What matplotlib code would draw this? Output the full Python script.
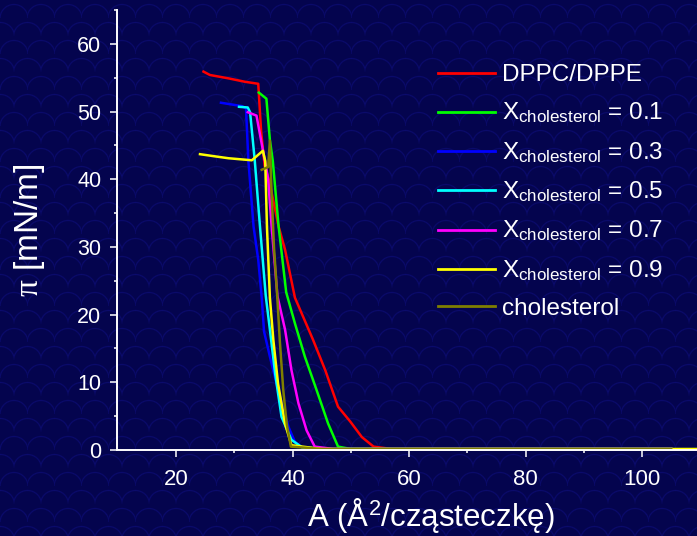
import numpy as np
import matplotlib
matplotlib.use('Agg')
from matplotlib import pyplot as plt

red_A = [24.7, 25.8, 29.0, 31.8, 34.1, 34.6, 35.2, 36.0, 37.6, 38.7, 40.4, 43.5, 45.6, 47.8, 49.9, 51.9, 53.9, 57.0, 105.0]
red_pi = [55.9, 55.4, 54.9, 54.4, 54.1, 47.0, 42.0, 39.7, 33.0, 29.6, 22.5, 16.3, 11.8, 6.4, 4.2, 1.9, 0.5, 0.15, 0.15]

green_A = [34.2, 35.5, 36.1, 36.6, 37.6, 38.9, 40.4, 42.1, 44.1, 46.1, 47.8, 50.0, 105.0]
green_pi = [52.8, 51.9, 45.8, 42.7, 33.0, 23.3, 18.7, 13.8, 8.9, 3.9, 0.5, 0.15, 0.15]

blue_A = [27.7, 31.3, 32.0, 32.4, 33.3, 34.1, 34.7, 35.1, 36.1, 37.5, 39.3, 40.4, 41.6, 45.0, 105.0]
blue_pi = [51.3, 50.8, 50.5, 42.8, 33.0, 28.1, 22.5, 17.5, 13.8, 8.9, 3.4, 1.2, 0.4, 0.15, 0.15]

cyan_A = [30.8, 32.3, 32.7, 33.5, 34.4, 35.4, 36.1, 37.0, 38.1, 39.8, 41.6, 45.0, 105.0]
cyan_pi = [50.7, 50.6, 49.9, 42.8, 33.0, 22.7, 17.8, 11.3, 4.9, 1.5, 0.4, 0.15, 0.15]

mag_A = [32.3, 33.8, 35.5, 35.8, 36.4, 37.4, 38.7, 39.8, 41.0, 42.4, 43.8, 47.0, 105.0]
mag_pi = [49.9, 49.4, 41.5, 40.0, 33.0, 22.7, 17.8, 11.8, 6.9, 2.9, 0.5, 0.15, 0.15]

yel_A = [24.1, 26.5, 29.0, 33.0, 34.9, 35.3, 35.6, 36.1, 36.7, 37.5, 38.7, 39.8, 45.0, 110.0]
yel_pi = [43.7, 43.4, 43.1, 42.8, 44.2, 42.7, 32.9, 22.5, 16.2, 9.8, 3.9, 0.7, 0.15, 0.15]

chol_A = [34.7, 35.8, 36.1, 36.3, 36.8, 37.3, 37.8, 38.4, 39.0, 39.7, 45.0, 105.0]
chol_pi = [41.4, 41.8, 45.7, 40.0, 30.0, 23.6, 16.2, 8.8, 3.8, 0.5, 0.15, 0.15]

labels = ['DPPC/DPPE',
          r'X$_{\mathrm{cholesterol}}$ = 0.1',
          r'X$_{\mathrm{cholesterol}}$ = 0.3',
          r'X$_{\mathrm{cholesterol}}$ = 0.5',
          r'X$_{\mathrm{cholesterol}}$ = 0.7',
          r'X$_{\mathrm{cholesterol}}$ = 0.9',
          'cholesterol']
colors = ['#ff0000', '#00ff00', '#0000ff', '#00ffff', '#ff00ff', '#ffff00', '#7f7f00']

# ---------------- style ----------------
plt.rcParams['font.family'] = ['Liberation Sans', 'DejaVu Sans']
plt.rcParams['mathtext.fontset'] = 'custom'
plt.rcParams['mathtext.rm'] = 'Liberation Sans'
plt.rcParams['mathtext.it'] = 'Liberation Serif'

W, H = 697, 536
bg = '#05054f'
fig = plt.figure(figsize=(W / 100, H / 100), dpi=100, facecolor=bg)

# slide background: dark navy with a faint scale pattern
yy, xx = np.mgrid[0:H, 0:W].astype(float)
cw, ch, rad = 27.0, 18.0, 14.0
row = np.floor(yy / ch)
cx = np.mod(xx + (row % 2) * cw / 2, cw) - cw / 2
cy = np.mod(yy, ch) - ch
d = np.sqrt(cx ** 2 + cy ** 2)
edge = np.clip(1.0 - np.abs(d - rad) / 1.2, 0, 1)
base = np.array([4, 4, 78]) / 255.0
line = np.array([11, 11, 108]) / 255.0
img = base[None, None, :] * (1 - edge[..., None]) + line[None, None, :] * edge[..., None]
fig.figimage(img, xo=0, yo=0, origin='upper', zorder=-10)

ax = fig.add_axes([116.7 / W, 86 / H, (W - 116.7) / W, 440 / H])
ax.set_facecolor('none')
ax.set_zorder(5)

series = [(red_A, red_pi), (green_A, green_pi), (blue_A, blue_pi), (cyan_A, cyan_pi),
          (mag_A, mag_pi), (yel_A, yel_pi), (chol_A, chol_pi)]
for (xs, ys), c, lab in zip(series, colors, labels):
    ax.plot(xs, ys, color=c, linewidth=1.8, label=lab, clip_on=False)

ax.set_xlim(9.8, 109.43)
ax.set_ylim(0, 65)
ax.set_xticks([20, 40, 60, 80, 100])
ax.set_xticks([30, 50, 70, 90], minor=True)
ax.set_yticks(np.arange(0, 61, 10))
ax.set_yticks(np.arange(5, 66, 10), minor=True)

for s in ['top', 'right']:
    ax.spines[s].set_visible(False)
for s in ['left', 'bottom']:
    ax.spines[s].set_color('white')
    ax.spines[s].set_linewidth(1.4)

ax.tick_params(which='both', direction='out', colors='white', width=1.1)
ax.tick_params(which='major', length=5)
ax.tick_params(which='minor', length=2.5)
ax.tick_params(axis='y', which='major', pad=6, labelsize=15.5)
ax.tick_params(axis='x', which='major', pad=9, labelsize=16)

ax.set_xlabel(r'A (Å$^{\mathrm{2}}$/cząsteczkę)', fontsize=22.5, color='white')
ax.xaxis.set_label_coords(0.541, -0.105)
ax.set_ylabel(r'$\pi$ [mN/m]', fontsize=24, color='white')
ax.yaxis.set_label_coords(-0.12, 0.5)

leg = ax.legend(loc='upper left', bbox_to_anchor=(438 / W, 1 - 64 / H),
                bbox_transform=fig.transFigure, frameon=False, fontsize=17.5,
                labelcolor='white', handlelength=2.35, handletextpad=0.3,
                labelspacing=0.62, borderpad=0, borderaxespad=0)
for ln in leg.get_lines():
    ln.set_linewidth(2.0)

fig.savefig('out.png', dpi=100, facecolor=bg)
